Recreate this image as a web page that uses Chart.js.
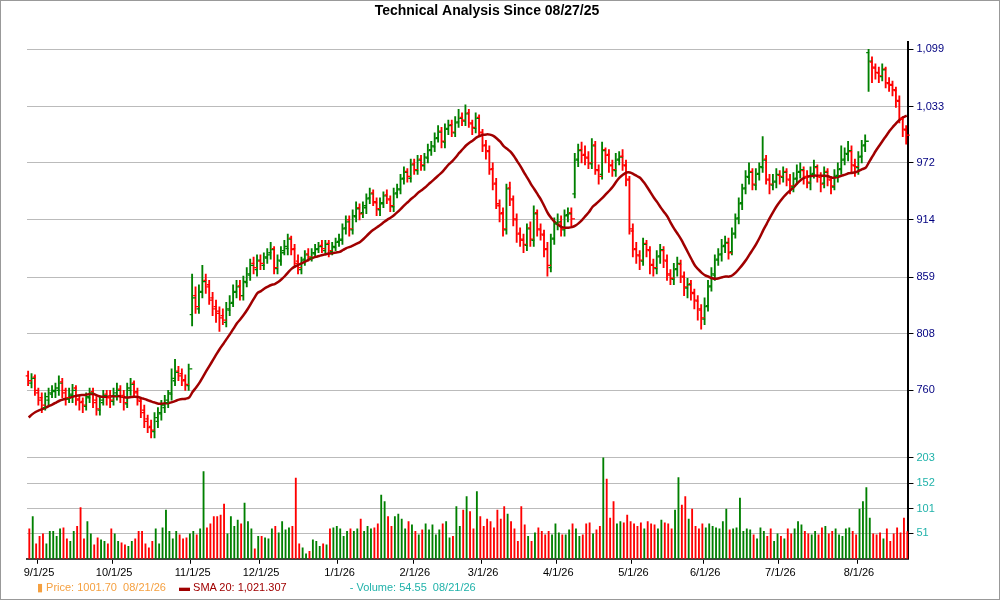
<!DOCTYPE html>
<html>
<head>
<meta charset="utf-8">
<script src="https://cdn.jsdelivr.net/npm/chart.js@4.4.1/dist/chart.umd.min.js"></script>
<style>
  body { margin: 0; background: #fff; font-family: "Liberation Sans", Arial, sans-serif; }
  #wrap { position: relative; width: 998px; height: 598px; border: 1px solid #999; }
  #box { position: absolute; left: 0; top: 0; width: 998px; height: 582px; }
  #legend { position: absolute; left: 36px; top: 580px; font-size: 11px; white-space: nowrap; }
  #legend span { margin-right: 10px; }
</style>
</head>
<body>
<div id="wrap">
  <div id="box"><canvas id="chart"></canvas></div>
  <div id="legend">
    <span style="color:#f5a040">&#9646; Price: 1001.70&nbsp; 08/21/26</span>
    <span style="color:#a00000">&#9644; <span style="color:#a00000">SMA 20: 1,021.307</span></span>
    <span style="color:#20b2aa;margin-left:40px">- Volume: 54.55&nbsp; 08/21/26</span>
  </div>
</div>
<script>
// closes of the 19 sessions before the window (only used to seed the SMA 20)
const priorCloses = [720,722,725,728,730,732,735,733,736,738,740,742,740,738,742,745,748,750,749]

// one line per week, first week starts Wed 08/27/25
const opens = [
  772,766,771,
  758,754,746,752,757, 759,760,767,760,753, 756,762,753,751,747, 754,759,752,744,750,
  757,755,751,756,761, 756,749,760,766,759, 751,744,737,731,727, 735,741,746,750,757,
  768,776,774,769,764, 825,842,830,846,856, 852,840,832,826,824, 818,829,836,846,851,
  842,854,861,872,866, 874,870,877,882,886, 867,874,884,886,896, 886,874,866,876,881,
  877,881,886,889,884, 891,883,887,893,894, 906,914,904,917,926, 921,926,936,941,931,
  924,931,939,934,927, 941,944,956,963,956, 971,964,976,969,977, 986,989,999,1006,994,
  1009,1013,1004,1016,1021, 1017,1026,1014,1009,1021, 1004,991,984,966,951, 928,921,904,946,934,
  914,901,894,889,906, 894,921,904,899,886, 868,896,911,911,904, 919,921,940,976,986,
  981,977,971,991,964, 960,986,981,969,964, 976,979,969,954,903, 886,879,874,891,884,
  871,867,879,884,874, 861,857,867,871,859, 849,853,844,837,829, 821,833,851,861,876,
  881,889,891,883,901, 916,931,946,957,963, 949,961,967,976,954, 949,953,959,957,963,
  954,947,956,963,964, 957,951,961,967,957, 951,963,954,947,959, 966,976,981,984,969,
  967,979,991,1095,1084, 1077,1071,1067,1076,1059, 1057,1051,1039,1019,1007
]
const highs = [
  776,774,773,
  762,758,758,762,764, 766,772,770,762,762, 765,764,756,754,758, 762,762,755,755,760,
  760,760,762,766,764, 760,766,770,768,762, 754,748,740,736,742, 746,752,756,760,778,
  786,780,778,773,782, 862,850,852,870,862, 856,845,838,832,830, 836,842,852,856,856,
  860,868,876,878,880, 880,882,886,892,888, 880,888,894,900,898, 890,880,878,884,886,
  886,890,892,894,894, 894,892,896,900,910, 918,918,924,932,930, 932,940,946,944,936,
  936,942,944,938,946, 950,960,968,966,976, 976,980,980,982,992, 995,1004,1012,1010,1014,
  1018,1018,1022,1030,1026, 1035,1030,1018,1026,1024, 1008,996,990,972,956, 934,926,950,952,938,
  920,906,900,910,912, 928,924,910,904,892, 900,916,920,918,924, 926,926,982,992,994,
  990,984,998,995,970, 994,988,986,975,982, 984,986,975,958,910, 892,884,896,894,888,
  876,884,890,888,880, 866,872,878,875,864, 858,856,848,842,834, 840,856,868,880,886,
  895,898,896,906,920, 936,950,964,972,966, 966,972,1000,980,960, 960,966,964,968,966,
  960,962,970,972,968, 964,968,975,970,962, 968,966,958,965,972, 990,988,995,990,976,
  984,996,1002,1099,1090, 1082,1078,1082,1078,1066, 1062,1055,1045,1022,1012
]
const lows = [
  764,762,756,
  748,742,744,748,754, 754,756,754,748,750, 750,748,744,742,744, 750,746,740,740,748,
  748,746,748,752,750, 744,746,756,754,748, 738,730,726,722,722, 730,736,742,746,752,
  764,768,764,760,760, 815,826,826,840,844, 834,824,818,810,816, 814,824,832,840,838,
  838,850,856,862,860, 866,866,872,876,862, 862,870,880,880,880, 868,862,862,870,874,
  874,878,882,882,880, 878,880,884,888,890, 900,898,900,912,914, 916,920,930,928,918,
  918,926,930,922,922, 936,940,950,952,952, 960,960,964,964,972, 980,984,994,988,988,
  1002,1000,1000,1010,1012, 1012,1010,1002,1004,1000, 984,976,960,944,925, 912,898,900,928,908,
  892,888,882,884,888, 888,898,894,878,860, 864,890,904,898,898, 912,908,936,968,972,
  970,966,966,960,950, 955,972,962,958,958, 970,964,948,900,878, 872,866,870,878,862,
  860,862,872,868,856, 852,852,860,854,842, 840,838,830,820,812, 816,828,846,856,870,
  874,882,876,880,896, 910,924,940,950,944, 944,954,962,950,940, 944,946,950,952,948,
  940,942,950,956,950, 946,944,956,952,942, 946,948,940,944,952, 960,970,974,962,958,
  960,972,984,1050,1060, 1064,1060,1062,1054,1050, 1045,1032,1015,1000,992
]
const closes = [
  768,770,760,
  752,748,755,758,760, 762,766,758,754,757, 760,752,750,748,755, 758,750,745,752,756,
  754,752,758,760,755, 750,762,765,758,752, 742,735,730,728,738, 742,748,752,758,770,
  775,772,768,765,778, 840,832,845,855,850, 838,830,828,822,820, 830,835,845,850,842,
  855,862,870,868,875, 872,878,880,885,868, 875,882,888,895,885, 872,868,875,880,878,
  882,885,888,886,890, 884,888,892,895,905, 912,905,918,925,920, 928,935,940,932,925,
  930,938,935,928,940, 945,955,962,958,970, 965,975,970,978,985, 990,998,1005,995,1008,
  1012,1005,1015,1020,1018, 1025,1015,1010,1020,1005, 990,985,965,950,930, 920,905,945,935,915,
  900,895,890,905,895, 920,905,900,885,870, 895,910,912,905,918, 920,915,975,985,980,
  978,972,990,965,958, 985,980,970,965,975, 978,970,955,905,885, 880,875,890,885,870,
  868,878,885,875,862, 858,866,872,860,850, 852,845,838,830,822, 832,850,862,875,880,
  888,892,882,900,915, 930,945,958,962,950, 960,968,975,955,950, 952,960,958,962,955,
  948,955,962,965,958, 952,960,968,958,950, 962,955,948,958,965, 975,982,985,970,968,
  978,990,995,1085,1078, 1072,1068,1075,1060,1058, 1052,1040,1020,1008,1001.7
]
const volumes = [
  60,85,30,
  45,50,30,55,55, 45,60,62,40,35, 55,65,103,40,75, 50,28,42,38,35,
  30,60,50,35,32, 28,25,35,40,55, 55,30,22,35,60, 30,62,98,55,40,
  55,48,40,42,50, 55,48,60,175,62, 70,85,85,88,110, 50,85,65,78,70,
  112,75,60,20,45, 45,42,40,60,65, 52,75,58,62,65, 162,30,22,10,15,
  38,35,25,30,28, 60,62,65,60,45, 55,60,55,60,80, 55,65,60,62,70,
  128,115,85,65,85, 90,80,60,75,68, 55,48,58,70,58, 68,48,58,70,75,
  42,45,105,65,98, 125,95,60,135,85, 65,80,75,62,98, 80,105,90,75,60,
  35,105,68,45,35, 52,62,55,48,55, 48,70,52,48,48, 58,70,60,45,48,
  70,72,50,58,65, 203,160,82,115,70, 75,72,88,75,70, 65,72,60,75,70,
  68,60,78,72,70, 60,98,163,108,125, 80,100,65,60,70, 62,70,65,62,60,
  75,100,58,60,62, 122,55,60,58,48, 40,62,55,45,60, 35,50,45,40,60,
  50,60,75,68,55, 50,48,55,48,62, 65,50,55,60,48, 45,60,62,55,48,
  100,115,143,82,50, 48,52,40,60,35, 50,62,52,82,54.55
]
const priceTicks = [760, 808, 859, 914, 972, 1033, 1099]
const volumeTicks = [51, 101, 152, 203]

// trading days (weekdays) from 08/27/25
const dates = []
for (let d = new Date(2025, 7, 27); dates.length < closes.length; d.setDate(d.getDate() + 1)) {
    if (d.getDay() === 0 || d.getDay() === 6) continue
    dates.push(new Date(d))
}
const labels = dates.map((d) => `${d.getMonth() + 1}/${d.getDate()}/${String(d.getFullYear()).slice(2)}`)
const monthStart = dates.map((d, i) => i > 0 && d.getMonth() !== dates[i - 1].getMonth())
monthStart[3] = true // 9/1/25

const UP = '#008000'
const DOWN = '#ff0000'
const barColors = closes.map((c, i) => (c >= (i ? closes[i - 1] : opens[0]) ? UP : DOWN))

const allCloses = priorCloses.concat(closes)
const sma = closes.map((c, i) => {
    const win = allCloses.slice(i, i + 20)
    return win.reduce((a, b) => a + b, 0) / 20
})

// open / close ticks on the OHLC bars
const ohlcTicks = {
    id: 'ohlcTicks',
    afterDatasetsDraw(chart) {
        const { ctx, scales } = chart
        ctx.save()
        ctx.lineWidth = 1.3
        closes.forEach((c, i) => {
            const x = scales.x.getPixelForValue(i)
            ctx.strokeStyle = barColors[i]
            ctx.beginPath()
            const yo = scales.y.getPixelForValue(opens[i])
            ctx.moveTo(x - 3, yo); ctx.lineTo(x, yo)
            const yc = scales.y.getPixelForValue(c)
            ctx.moveTo(x, yc); ctx.lineTo(x + 3, yc)
            ctx.stroke()
        })
        ctx.restore()
    }
}

new Chart(document.getElementById('chart'), {
    type: 'bar',
    data: {
        labels,
        datasets: [
            {
                type: 'line',
                data: sma,
                yAxisID: 'y',
                borderColor: '#a00000',
                borderWidth: 2.5,
                pointRadius: 0,
                tension: 0.3,
                order: 0
            },
            {
                data: lows.map((l, i) => [l, highs[i]]),
                yAxisID: 'y',
                backgroundColor: barColors,
                barThickness: 1.2,
                order: 1
            },
            {
                data: volumes,
                yAxisID: 'yv',
                backgroundColor: barColors,
                barThickness: 1.2,
                order: 1
            }
        ]
    },
    options: {
        responsive: true,
        maintainAspectRatio: false,
        animation: false,
        layout: { padding: { left: 26, right: 52, top: 0, bottom: 0 } },
        plugins: {
            legend: { display: false },
            tooltip: { enabled: false },
            title: {
                display: true,
                text: 'Technical Analysis Since 08/27/25',
                color: '#000',
                font: { family: 'Liberation Sans', size: 14, weight: 'bold' },
                padding: { top: 2, bottom: 22 }
            }
        },
        scales: {
            x: {
                offset: true,
                grid: { display: true, drawOnChartArea: false, drawTicks: true, tickLength: 5, color: (c) => (monthStart[c.index] ? '#000' : 'rgba(0,0,0,0)') },
                border: { color: '#444', width: 2 },
                ticks: {
                    autoSkip: false,
                    maxRotation: 0,
                    color: '#000',
                    font: { family: 'Liberation Sans', size: 11 },
                    callback: (v, i) => {
                        if (!monthStart[i]) return ''
                        const d = dates[i]
                        return `${d.getMonth() + 1}/1/${String(d.getFullYear()).slice(2)}`
                    }
                }
            },
            y: {
                type: 'logarithmic',
                position: 'right',
                stack: 'panes',
                stackWeight: 4.05,
                min: 712,
                max: 1108,
                border: { color: '#000', width: 2 },
                grid: { color: '#bbb', borderDash: [3, 2], tickLength: 5, tickColor: '#000' },
                afterBuildTicks: (scale) => { scale.ticks = priceTicks.map((v) => ({ value: v })) },
                ticks: {
                    color: '#000080',
                    font: { family: 'Liberation Sans', size: 11 },
                    callback: (v) => v.toLocaleString('en-US')
                }
            },
            yv: {
                position: 'right',
                stack: 'panes',
                stackWeight: 1.07,
                min: 0,
                max: 217,
                border: { color: '#000', width: 2 },
                grid: { color: '#bbb', borderDash: [3, 2], tickLength: 5, tickColor: '#000' },
                afterBuildTicks: (scale) => { scale.ticks = volumeTicks.map((v) => ({ value: v })) },
                ticks: {
                    color: '#20b2aa',
                    font: { family: 'Liberation Sans', size: 11 }
                }
            }
        }
    },
    plugins: [ohlcTicks]
})
</script>
</body>
</html>
